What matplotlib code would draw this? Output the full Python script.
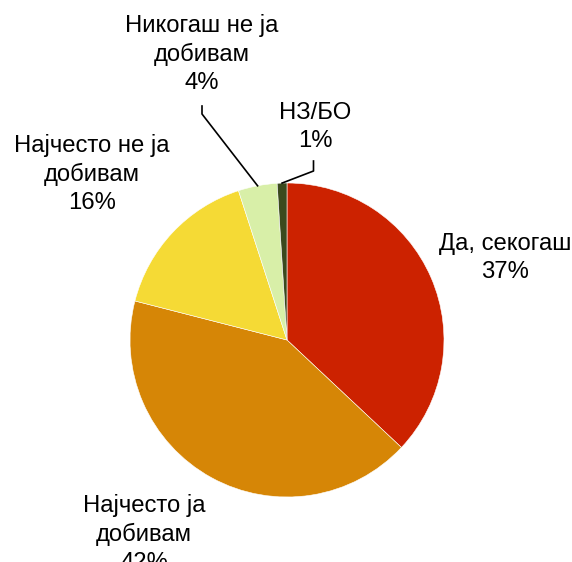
import numpy as np
import matplotlib
matplotlib.use("Agg")
import matplotlib.pyplot as plt

labels = ["Да, секогаш", "Најчесто ја\nдобивам", "Најчесто не ја\nдобивам",
          "Никогаш не ја\nдобивам", "НЗ/БО"]
values = [37, 42, 16, 4, 1]
colors = ["#CC2200", "#D68606", "#F5DA35", "#D8EFA8", "#3B4A1E"]

plt.rcParams["font.family"] = ["Liberation Sans", "DejaVu Sans"]

W, H = 572, 562
fig = plt.figure(figsize=(W / 100, H / 100), dpi=100)
ax = fig.add_axes([0, 0, 1, 1])

cx, cy, r = 287, H - 340, 157
wedges, _ = ax.pie(values, colors=colors, startangle=90, counterclock=False,
                   center=(cx, cy), radius=r, frame=True,
                   wedgeprops=dict(linewidth=0.4, edgecolor="white"))
ax.set_xlim(0, W)
ax.set_ylim(0, H)
ax.axis("off")

# label centres in pixel coordinates (from top-left)
label_pos = [(505, 258), (144, 534), (92, 174), (202, 54), (315, 127)]
for lab, v, (x, y) in zip(labels, values, label_pos):
    ax.text(x, H - y, f"{lab}\n{v}%", ha="center", va="center",
            fontsize=17.2, linespacing=1.36, color="black")

# leader lines for the two small slices
elbows = {3: [(202, 106), (202, 114)], 4: [(313.5, 161), (313.5, 171)]}
for i, pts in elbows.items():
    w = wedges[i]
    mid = np.deg2rad((w.theta1 + w.theta2) / 2)
    ex, ey = cx + r * np.cos(mid), cy + r * np.sin(mid)
    xs = [p[0] for p in pts] + [ex]
    ys = [H - p[1] for p in pts] + [ey]
    ax.plot(xs, ys, color="black", linewidth=1.2)

fig.savefig("out.png", dpi=100)
